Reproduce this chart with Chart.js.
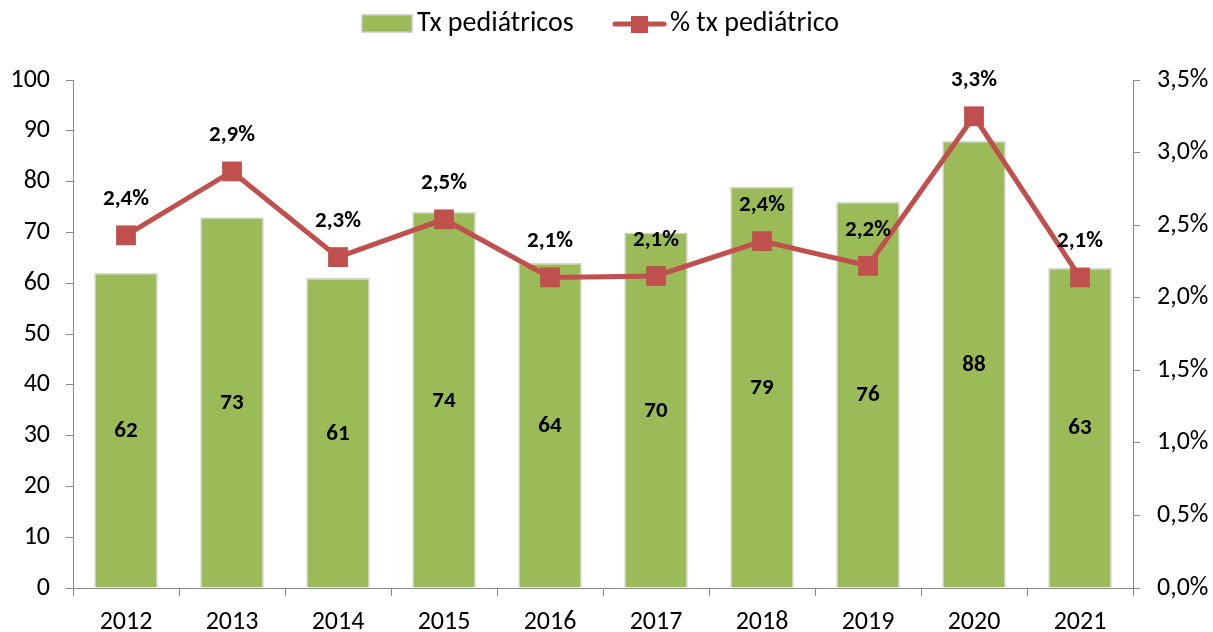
<!DOCTYPE html>
<html>
<head>
<meta charset="utf-8">
<script src="https://cdn.jsdelivr.net/npm/chart.js@4/dist/chart.umd.min.js"></script>
<style>
html,body{margin:0;padding:0;background:#fff;}
canvas{display:block;}
</style>
</head>
<body>
<canvas id="c" width="1213" height="632"></canvas>
<script>
const years = ['2012','2013','2014','2015','2016','2017','2018','2019','2020','2021'];
const txPediatricos = [62, 73, 61, 74, 64, 70, 79, 76, 88, 63];
const pctPediatrico = [2.43, 2.87, 2.28, 2.54, 2.14, 2.15, 2.39, 2.22, 3.25, 2.14];
const seriesNames = ['Tx pediátricos', '% tx pediátrico'];

const FONT = "Carlito, Lato, 'Liberation Sans', sans-serif";
const GREEN = '#9BBB59';
const RED = '#C0504D';
const AXIS = '#898989';

const fmtPct = v => v.toFixed(1).replace('.', ',') + '%';

const labelPlugin = {
  id: 'labels',
  afterDatasetsDraw(chart) {
    const ctx = chart.ctx;
    ctx.save();
    ctx.fillStyle = '#000';
    ctx.font = 'bold 23px ' + FONT;
    ctx.textAlign = 'center';
    ctx.textBaseline = 'middle';
    const barMeta = chart.getDatasetMeta(0);
    barMeta.data.forEach((el, i) => {
      const y = (el.y + el.base) / 2;
      ctx.fillText(String(txPediatricos[i]), el.x, y + 1);
    });
    const lineMeta = chart.getDatasetMeta(1);
    lineMeta.data.forEach((el, i) => {
      ctx.fillText(fmtPct(pctPediatrico[i]), el.x, el.y - 36);
    });
    ctx.restore();
  },
  afterDraw(chart) {
    const ctx = chart.ctx;
    ctx.save();
    ctx.font = '28px ' + FONT;
    ctx.textBaseline = 'middle';
    // bar legend
    ctx.fillStyle = GREEN;
    ctx.fillRect(362, 15, 50, 17);
    ctx.strokeStyle = '#c8c8c8';
    ctx.lineWidth = 1.5;
    ctx.strokeRect(362, 15, 50, 17);
    ctx.fillStyle = '#000';
    ctx.textAlign = 'left';
    ctx.fillText(seriesNames[0], 417, 24);
    // line legend
    ctx.strokeStyle = RED;
    ctx.lineWidth = 5;
    ctx.lineCap = 'round';
    ctx.beginPath();
    ctx.moveTo(615, 24);
    ctx.lineTo(664, 24);
    ctx.stroke();
    ctx.fillStyle = RED;
    ctx.fillRect(631, 16, 17, 17);
    ctx.fillStyle = '#000';
    ctx.fillText(seriesNames[1], 670, 24);
    ctx.restore();
  }
};

new Chart(document.getElementById('c'), {
  data: {
    labels: years,
    datasets: [
      {
        type: 'bar',
        label: seriesNames[0],
        data: txPediatricos,
        yAxisID: 'y',
        backgroundColor: GREEN,
        borderColor: '#d4d4d4',
        borderWidth: 1.5,
        barPercentage: 0.6,
        categoryPercentage: 1.0,
        order: 1
      },
      {
        type: 'line',
        label: seriesNames[1],
        data: pctPediatrico,
        yAxisID: 'y1',
        borderColor: RED,
        backgroundColor: RED,
        borderWidth: 5,
        pointStyle: 'rect',
        pointRadius: 14,
        pointBorderWidth: 0,
        pointBackgroundColor: RED,
        tension: 0,
        order: 0
      }
    ]
  },
  options: {
    responsive: false,
    animation: false,
    devicePixelRatio: 1,
    layout: { padding: { top: 80, left: 0, right: 0, bottom: 0 } },
    plugins: {
      legend: { display: false },
      tooltip: { enabled: false }
    },
    scales: {
      x: {
        grid: { display: true, drawOnChartArea: false, offset: true, tickLength: 8, color: AXIS, lineWidth: 1 },
        border: { color: AXIS, width: 1 },
        ticks: { color: '#000', font: { family: FONT, size: 26 }, padding: 11, maxRotation: 0 },
        afterFit(s) { s.height = 44; }
      },
      y: {
        position: 'left',
        min: 0, max: 100,
        grid: { display: true, drawOnChartArea: false, tickLength: 7, color: AXIS },
        border: { color: AXIS, width: 1 },
        ticks: { stepSize: 10, color: '#000', font: { family: FONT, size: 26 }, padding: 16 },
        afterFit(s) { s.width = 73; }
      },
      y1: {
        position: 'right',
        min: 0, max: 3.5,
        grid: { display: true, drawOnChartArea: false, tickLength: 7, color: AXIS },
        border: { color: AXIS, width: 1 },
        ticks: { stepSize: 0.5, color: '#000', font: { family: FONT, size: 26 }, padding: 17,
          callback: v => v.toFixed(1).replace('.', ',') + '%' },
        afterFit(s) { s.width = 80; }
      }
    }
  },
  plugins: [labelPlugin]
});
</script>
</body>
</html>
